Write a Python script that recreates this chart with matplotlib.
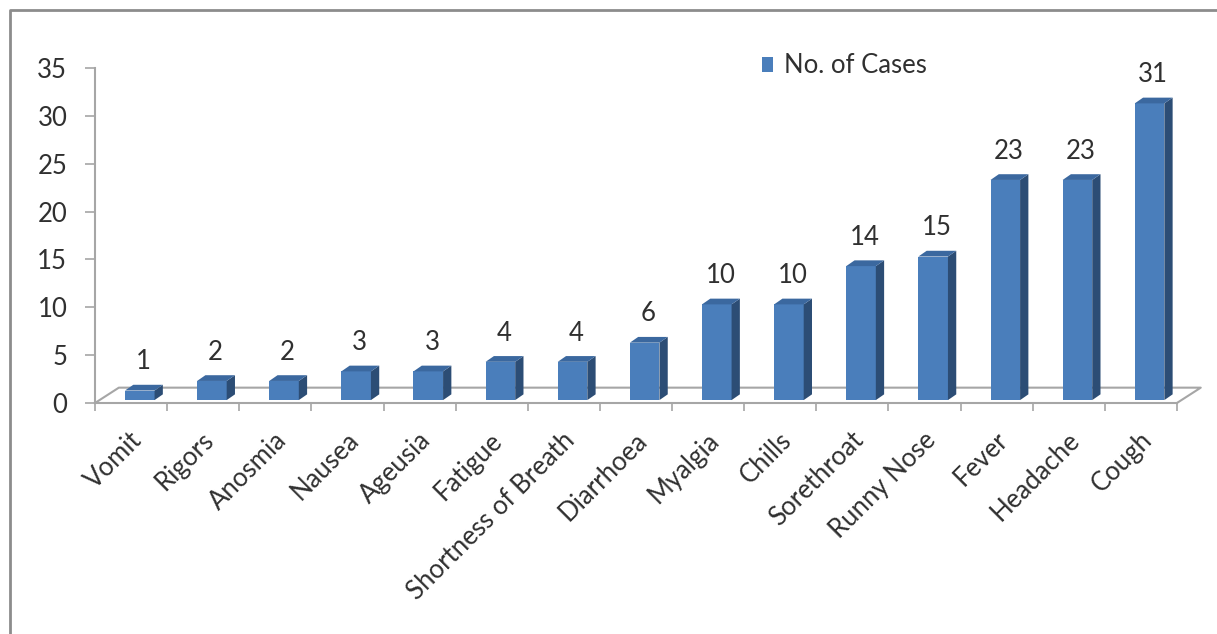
import matplotlib
matplotlib.use('Agg')
import numpy as np
import matplotlib.pyplot as plt
import matplotlib.transforms as mtransforms
from matplotlib.patches import Polygon, Patch
from matplotlib.lines import Line2D

categories = ["Vomit", "Rigors", "Anosmia", "Nausea", "Ageusia", "Fatigue",
              "Shortness of Breath", "Diarrhoea", "Myalgia", "Chills",
              "Sorethroat", "Runny Nose", "Fever", "Headache", "Cough"]
cases = [1, 2, 2, 3, 3, 4, 4, 6, 10, 10, 14, 15, 23, 23, 31]
yticks = [0, 5, 10, 15, 20, 25, 30, 35]
series_name = "No. of Cases"

plt.rcParams['font.family'] = ['Lato', 'DejaVu Sans']
text_col = '#303030'
grid_col = '#a6a6a6'
front_col = '#4a7ebb'
side_col = '#2c4d75'
top_col = '#3b689f'
fs = 18.5

fig = plt.figure(figsize=(12.17, 6.34), dpi=100)
ax = fig.add_axes([0.0781, 0.3644, 0.889, 0.5284])
n = len(categories)
ax.set_xlim(-0.5, n - 0.5)
ax.set_ylim(0, 35)

# 3D-like styling constants
w = 0.41
shift = 0.12
lift = 0.3
ddx = 0.115
ddy = 0.6
fdx = 0.33
fdy = 1.6

# floor
ax.plot([-0.5, -0.5 + fdx, n - 0.5 + fdx, n - 0.5], [0, fdy, fdy, 0],
        color=grid_col, lw=1.5, clip_on=False, zorder=1)

x = np.arange(n)
bars = ax.bar(x + shift, cases, width=w, bottom=lift, color=front_col,
              zorder=3, clip_on=False)
for b, v in zip(bars, cases):
    x0 = b.get_x(); x1 = x0 + b.get_width()
    y0 = b.get_y(); y1 = y0 + b.get_height()
    ax.add_patch(Polygon([(x1, y0), (x1 + ddx, y0 + ddy), (x1 + ddx, y1 + ddy), (x1, y1)],
                         closed=True, fc=side_col, ec='none', zorder=3, clip_on=False))
    ax.add_patch(Polygon([(x0, y1), (x1, y1), (x1 + ddx, y1 + ddy), (x0 + ddx, y1 + ddy)],
                         closed=True, fc=top_col, ec='none', zorder=3, clip_on=False))
    ax.text((x0 + x1) / 2 + 0.05, y1 + 3.0, str(v), ha='center', va='center',
            fontsize=fs, color=text_col)

for s in ['top', 'right']:
    ax.spines[s].set_visible(False)
for s in ['left', 'bottom']:
    ax.spines[s].set_color(grid_col)
    ax.spines[s].set_linewidth(1.5)

ax.set_yticks(yticks)
ax.tick_params(axis='y', length=7, width=1.2, color=grid_col, pad=13,
               labelsize=fs, labelcolor=text_col)
ax.set_xticks(x)
ax.set_xticklabels(categories, rotation=45, ha='right', va='center',
                   rotation_mode='anchor')
ax.tick_params(axis='x', which='major', length=0, pad=24, labelsize=fs,
               labelcolor=text_col)
off = mtransforms.ScaledTranslation(7 / 100, 0, fig.dpi_scale_trans)
for lab in ax.get_xticklabels():
    lab.set_transform(lab.get_transform() + off)
ax.set_xticks(np.arange(-0.5, n), minor=True)
ax.tick_params(axis='x', which='minor', length=6, width=1.2, color=grid_col)

fig.legend(handles=[Patch(facecolor=front_col)], labels=[series_name],
           loc='center left', bbox_to_anchor=(0.6155, 0.896),
           bbox_transform=fig.transFigure, frameon=False, fontsize=fs,
           handlelength=0.45, handleheight=0.55, handletextpad=0.4,
           borderpad=0, labelcolor=text_col)

fig.add_artist(Line2D([10 / 1217, 10 / 1217, 1], [0, 1 - 10 / 634, 1 - 10 / 634],
                      transform=fig.transFigure, color='#8c8c8c', lw=2))

fig.savefig('out.png', dpi=100)
